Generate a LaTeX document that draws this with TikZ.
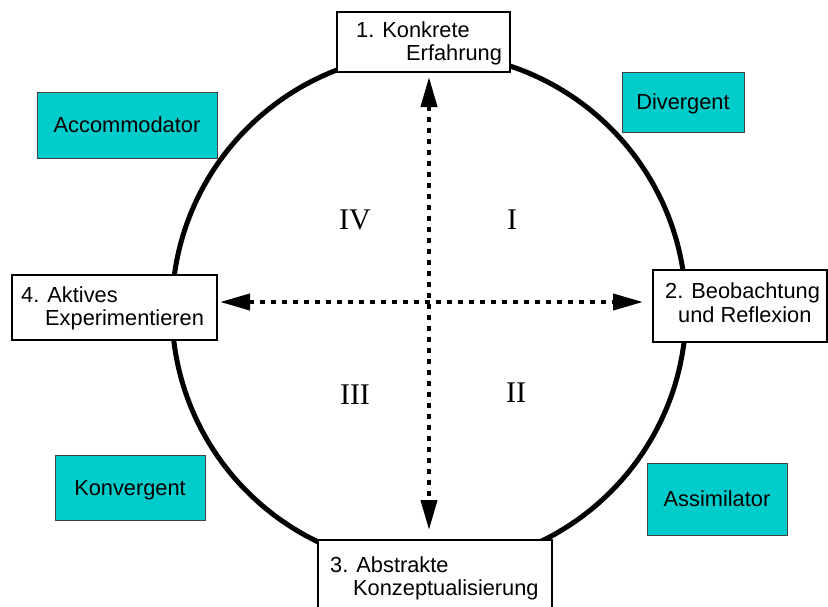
\documentclass[tikz,border=0pt]{standalone}
\usepackage{fontspec}
\setmainfont{Liberation Sans}
\newfontfamily\romanfont{Liberation Serif}
\usetikzlibrary{arrows.meta}
\definecolor{tealfill}{RGB}{0,204,204}
\begin{document}
\begin{tikzpicture}[x=1pt,y=-1pt,
  wbox/.style={draw=black, line width=1.2pt, fill=white, inner sep=0pt},
  tbox/.style={draw=black!75, line width=1pt, fill=tealfill, inner sep=0pt,
    font=\fontsize{21.8}{24}\selectfont, text height=15.6pt, text depth=0pt},
  lbl/.style={anchor=base west, inner sep=0pt, font=\fontsize{21.8}{24}\selectfont},
  quad/.style={inner sep=0pt, font=\romanfont\fontsize{30}{32}\selectfont},
  dotarrow/.style={line width=4pt, dash pattern=on 5pt off 6pt,
    {Triangle[length=30pt,width=16pt]}-{Triangle[length=30pt,width=16pt]}}
]
\useasboundingbox (0,0) rectangle (828,606);
% circle
\draw[line width=5pt] (429,310) circle[radius=257];
% white boxes
\node[wbox, minimum width=173pt, minimum height=60pt] (b1) at (423.5,42) {};
\node[wbox, minimum width=174pt, minimum height=72pt] (b2) at (740,306) {};
\node[wbox, minimum width=234pt, minimum height=80pt] (b3) at (435,580) {};
\node[wbox, minimum width=205pt, minimum height=65pt] (b4) at (114.5,307.5) {};
% texts
\node[lbl] (t1a) at (356,37) {1. Konkrete};
\node[lbl] (t1b) at (406,60) {Erfahrung};
\node[lbl] (t2a) at (665,298) {2. Beobachtung};
\node[lbl] (t2b) at (678,322) {und Reflexion};
\node[lbl] (t3a) at (330,572) {3. Abstrakte};
\node[lbl] (t3b) at (353,595) {Konzeptualisierung};
\node[lbl] (t4a) at (21,302) {4. Aktives};
\node[lbl] (t4b) at (45,325) {Experimentieren};
% teal boxes
\node[tbox, minimum width=180pt, minimum height=66pt] (acc) at (127,125) {Accommodator};
\node[tbox, minimum width=122pt, minimum height=60pt] (div) at (683,102) {Divergent};
\node[tbox, minimum width=150pt, minimum height=65pt] (kon) at (130,487.5) {Konvergent};
\node[tbox, minimum width=140pt, minimum height=72pt] (ass) at (717,499) {Assimilator};
% quadrant numerals
\node[quad] (q1) at (512,220) {I};
\node[quad] (q4) at (355,220) {IV};
\node[quad] (q3) at (355,395) {III};
\node[quad] (q2) at (516,393) {II};
% arrows
\coordinate (vtop) at (429,77);
\coordinate (vbot) at (429,530);
\coordinate (hleft) at (220,302);
\coordinate (hright) at (643,302);
\draw[dotarrow] (vtop) -- (vbot);
\draw[dotarrow] (hleft) -- (hright);
\end{tikzpicture}
\end{document}
